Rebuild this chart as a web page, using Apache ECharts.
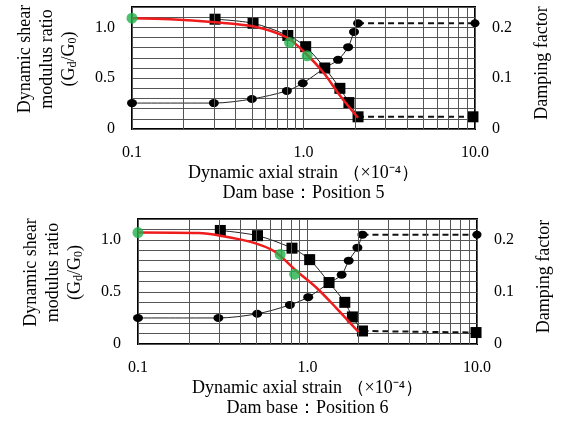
<!DOCTYPE html>
<html>
<head>
<meta charset="utf-8">
<script src="https://cdn.jsdelivr.net/npm/echarts@6/dist/echarts.min.js"></script>
<style>
html, body { margin: 0; padding: 0; background: #fff; }
#chart { width: 561px; height: 432px; }
</style>
</head>
<body>
<div id="chart"></div>
<script>
// Dam base : Position 5 (top panel)
const sqStrain5 = [0.305, 0.508, 0.81, 1.03, 1.33, 1.63, 1.84, 2.08];
const sqRatio5 = [1.08, 1.04, 0.92, 0.81, 0.60, 0.40, 0.26, 0.12];
const sqTail5 = [9.73, 0.12];
const dampStrain5 = [0.1, 0.30, 0.50, 0.80, 0.99, 1.33, 1.59, 1.82, 1.97, 2.08];
const damp5 = [0.051, 0.051, 0.059, 0.075, 0.090, 0.12, 0.136, 0.161, 0.191, 0.208];
const dampTail5 = [10, 0.208];
const greenStrain5 = [0.1, 0.83, 1.05];
const greenRatio5 = [1.09, 0.85, 0.72];
const fitStrain5 = [0.1, 0.167, 0.305, 0.508, 0.80, 1.02, 1.30, 1.63, 2.08];
const fitRatio5 = [1.09, 1.08, 1.05, 1.01, 0.90, 0.75, 0.56, 0.33, 0.11];

// Dam base : Position 6 (bottom panel)
const sqStrain6 = [0.306, 0.507, 0.81, 1.03, 1.34, 1.66, 1.84, 2.11];
const sqRatio6 = [1.09, 1.04, 0.92, 0.81, 0.59, 0.40, 0.26, 0.125];
const sqTail6 = [9.87, 0.11];
const dampStrain6 = [0.1, 0.298, 0.505, 0.787, 1.01, 1.34, 1.59, 1.75, 1.97, 2.11];
const damp6 = [0.050, 0.050, 0.058, 0.075, 0.090, 0.117, 0.133, 0.160, 0.185, 0.210];
const dampTail6 = [10, 0.210];
const greenStrain6 = [0.1, 0.69, 0.84];
const greenRatio6 = [1.07, 0.86, 0.67];
const fitStrain6 = [0.1, 0.228, 0.306, 0.462, 0.636, 0.863, 1.13, 1.47, 2.0];
const fitRatio6 = [1.07, 1.065, 1.04, 0.98, 0.89, 0.70, 0.54, 0.35, 0.115];

const minorStrain = [0.2, 0.3, 0.4, 0.5, 0.6, 0.7, 0.8, 0.9, 2, 3, 4, 5, 6, 7, 8, 9];
const xLabels = { '0.1': '0.1', '1': '1.0', '10': '10.0' };

const FONT = '"Liberation Serif", "Times New Roman", serif';
const zip = (a, b) => a.map((v, i) => [v, b[i]]);
const gridColor = '#555';

function near(v, t) { return Math.abs(v - t) < 1e-6; }

function xAxisFor(gi, title) {
  return {
    type: 'log', logBase: 10, min: 0.1, max: 10, gridIndex: gi,
    axisLine: { show: false }, axisTick: { show: false },
    splitLine: { show: true, lineStyle: { color: gridColor, width: 1 } },
    axisLabel: {
      margin: 16, fontFamily: FONT, fontSize: 16, color: '#000',
      formatter: v => xLabels[String(+v.toPrecision(3))] || ''
    },
    name: 'Dynamic axial strain （×10⁻⁴）\n' + title,
    nameLocation: 'middle', nameGap: 34,
    nameTextStyle: { fontFamily: FONT, fontSize: 18, color: '#000', lineHeight: 20 }
  };
}

function leftAxisFor(gi) {
  return {
    type: 'value', min: 0, max: 1.2, interval: 0.1, gridIndex: gi,
    axisLine: { show: false }, axisTick: { show: false },
    splitLine: { show: true, lineStyle: { color: gridColor, width: 1 } },
    axisLabel: {
      margin: 17, fontFamily: FONT, fontSize: 16, color: '#000',
      formatter: v => near(v, 0) ? '0' : near(v, 0.5) ? '0.5' : near(v, 1) ? '1.0' : ''
    },
    name: 'Dynamic shear\nmodulus ratio\n({t|G}{s|d}{t|/G}{s|0}{t|)}',
    nameLocation: 'middle', nameGap: 52, nameRotate: 90,
    nameTextStyle: {
      fontFamily: FONT, fontSize: 18, color: '#000', lineHeight: 22,
      padding: [0, 0, 0, 18],
      rich: {
        t: { fontFamily: FONT, fontSize: 18, color: '#000' },
        s: { fontFamily: FONT, fontSize: 12, color: '#000', padding: [8, 0, 0, 0] }
      }
    }
  };
}

function rightAxisFor(gi) {
  return {
    type: 'value', min: 0, max: 0.24, interval: 0.02, gridIndex: gi, position: 'right',
    axisLine: { show: false }, axisTick: { show: false }, splitLine: { show: false },
    axisLabel: {
      margin: 17, fontFamily: FONT, fontSize: 16, color: '#000',
      formatter: v => near(v, 0) ? '0' : near(v, 0.1) ? '0.1' : near(v, 0.2) ? '0.2' : ''
    },
    name: 'Damping factor',
    nameLocation: 'middle', nameGap: 58, nameRotate: 90,
    nameTextStyle: { fontFamily: FONT, fontSize: 18, color: '#000', padding: [0, 0, 0, 10] }
  };
}

function panelSeries(p, d) {
  const xi = p, yl = p * 2, yr = p * 2 + 1;
  return [
    {
      type: 'line', xAxisIndex: xi, yAxisIndex: yl, data: [], silent: true, z: 1,
      markLine: {
        silent: true, symbol: 'none', animation: false,
        label: { show: false },
        lineStyle: { color: gridColor, width: 1, type: 'solid' },
        data: minorStrain.map(v => ({ xAxis: v }))
      }
    },
    {
      type: 'line', xAxisIndex: xi, yAxisIndex: yr, clip: false, z: 3,
      data: zip(d.dampStrain, d.damp), smooth: 0.3,
      symbol: 'circle', symbolSize: [10, 8],
      itemStyle: { color: '#000' }, lineStyle: { color: '#222', width: 1 }
    },
    {
      type: 'line', xAxisIndex: xi, yAxisIndex: yr, clip: false, z: 3,
      data: [{ value: [d.dampStrain[d.dampStrain.length - 1], d.damp[d.damp.length - 1]], symbol: 'none' }, d.dampTail],
      symbol: 'circle', symbolSize: [9, 8],
      itemStyle: { color: '#000' }, lineStyle: { color: '#111', width: 2, type: [6, 4] }
    },
    {
      type: 'line', xAxisIndex: xi, yAxisIndex: yl, clip: false, z: 4,
      data: zip(d.sqStrain, d.sqRatio), smooth: 0.3,
      symbol: 'rect', symbolSize: 11,
      itemStyle: { color: '#000' }, lineStyle: { color: '#222', width: 1 }
    },
    {
      type: 'line', xAxisIndex: xi, yAxisIndex: yl, clip: false, z: 4,
      data: [{ value: [d.sqStrain[d.sqStrain.length - 1], d.sqRatio[d.sqRatio.length - 1]], symbol: 'none' }, d.sqTail],
      symbol: 'rect', symbolSize: 11,
      itemStyle: { color: '#000' }, lineStyle: { color: '#111', width: 2, type: [6, 4] }
    },
    {
      type: 'line', xAxisIndex: xi, yAxisIndex: yl, z: 5,
      data: zip(d.fitStrain, d.fitRatio), smooth: 0.3, showSymbol: false,
      lineStyle: { color: '#ee1c1c', width: 2.5 }
    },
    {
      type: 'scatter', xAxisIndex: xi, yAxisIndex: yl, clip: false, z: 6,
      data: zip(d.greenStrain, d.greenRatio), symbolSize: 11,
      itemStyle: { color: '#22b14c' }
    }
  ];
}

const chart = echarts.init(document.getElementById('chart'));
chart.setOption({
  backgroundColor: '#fff',
  animation: false,
  grid: [
    { left: 132, top: 7, width: 343, height: 122, show: true, borderColor: '#000', borderWidth: 2 },
    { left: 138, top: 219, width: 346, height: 125, show: true, borderColor: '#000', borderWidth: 2 }
  ],
  xAxis: [xAxisFor(0, 'Dam base：Position 5'), xAxisFor(1, 'Dam base：Position 6')],
  yAxis: [leftAxisFor(0), rightAxisFor(0), leftAxisFor(1), rightAxisFor(1)],
  series: [].concat(
    panelSeries(0, {
      sqStrain: sqStrain5, sqRatio: sqRatio5, sqTail: sqTail5,
      dampStrain: dampStrain5, damp: damp5, dampTail: dampTail5,
      greenStrain: greenStrain5, greenRatio: greenRatio5,
      fitStrain: fitStrain5, fitRatio: fitRatio5
    }),
    panelSeries(1, {
      sqStrain: sqStrain6, sqRatio: sqRatio6, sqTail: sqTail6,
      dampStrain: dampStrain6, damp: damp6, dampTail: dampTail6,
      greenStrain: greenStrain6, greenRatio: greenRatio6,
      fitStrain: fitStrain6, fitRatio: fitRatio6
    })
  )
});
</script>
</body>
</html>
